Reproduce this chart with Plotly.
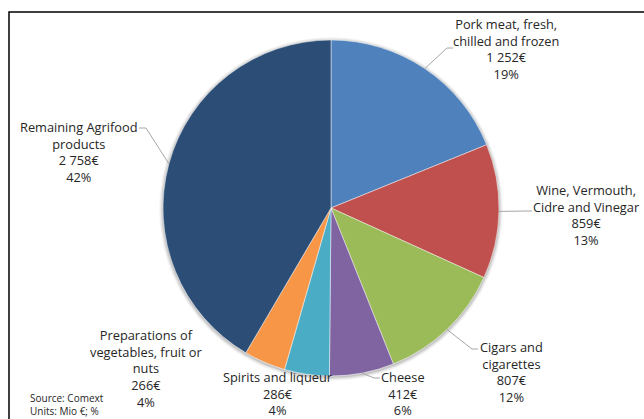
import math
import plotly.graph_objects as go

# Agrifood export breakdown (Mio €)
categories = [
    "Pork meat, fresh,<br>chilled and frozen",
    "Wine, Vermouth,<br>Cidre and Vinegar",
    "Cigars and<br>cigarettes",
    "Cheese",
    "Spirits and liqueur",
    "Preparations of<br>vegetables, fruit or<br>nuts",
    "Remaining Agrifood<br>products",
]
values = [1252, 859, 807, 412, 286, 266, 2758]
colors = ["#4F81BD", "#C0504D", "#9BBB59", "#8064A2", "#4BACC6", "#F79646", "#2C4D75"]

W, H = 644, 419
CX, CY, R = 331, 208, 168          # pie centre / radius in pixels
FONT = "Open Sans"


def px(x):
    return x / W


def py(y):
    return 1 - y / H


def fmt_eur(v):
    return f"{v:,}".replace(",", " ") + "€"


total = sum(values)
fig = go.Figure()

fig.add_trace(go.Pie(
    labels=[c.replace("<br>", " ") for c in categories],
    values=values,
    sort=False,
    direction="clockwise",
    rotation=0,
    marker=dict(colors=colors, line=dict(color="rgba(255,255,255,0.6)", width=0.8)),
    textinfo="none",
    hoverinfo="label+value+percent",
    showlegend=False,
    domain=dict(x=[px(CX - 200), px(CX + 200)], y=[py(CY + R), py(CY - R)]),
))

# soft shadow around the pie
shapes = []
for k, op in [(4, 0.03), (3, 0.05), (2, 0.07), (1, 0.09)]:
    shapes.append(dict(
        type="circle", xref="paper", yref="paper", layer="below",
        x0=px(CX - R - k), x1=px(CX + R + k), y0=py(CY + R + k + 1), y1=py(CY - R - k + 1),
        fillcolor=f"rgba(0,0,0,{op})", line=dict(width=0),
    ))

# label block centres (px) and leader elbow/end points for each slice
label_pos = [(506, 49.5), (586, 215), (511, 371.5), (403, 393.5), (278, 393.5), (146, 368), (79, 151.5)]
leaders = {
    0: [(447, 48), (453, 48)],
    1: [(527, 211), (532, 211)],
    2: [(472, 349), (478, 349)],
    3: [(374, 378), (380, 378)],
    6: [(146, 128), (139, 128)],
}

cum = 0
annotations = []
for i, (cat, v) in enumerate(zip(categories, values)):
    mid = (cum + v / 2) / total * 2 * math.pi
    cum += v
    ex, ey = CX + R * math.sin(mid), CY - R * math.cos(mid)
    if i in leaders:
        pts = [(ex, ey)] + leaders[i]
        path = "M " + " L ".join(f"{px(x)},{py(y)}" for x, y in pts)
        shapes.append(dict(type="path", xref="paper", yref="paper", path=path,
                           line=dict(color="#A6A6A6", width=1)))
    lx, ly = label_pos[i]
    pct = round(v / total * 100)
    annotations.append(dict(
        x=px(lx), y=py(ly), xref="paper", yref="paper",
        xanchor="center", yanchor="middle", align="center", showarrow=False,
        text=f"{cat}<br>{fmt_eur(v)}<br>{pct}%",
        font=dict(family=FONT, size=12.8, color="#262626"),
    ))

annotations.append(dict(
    x=px(28), y=py(404), xref="paper", yref="paper", xanchor="left", yanchor="middle",
    align="left", showarrow=False, text="Source: Comext<br>Units: Mio €; %",
    font=dict(family=FONT, size=10, color="#262626"),
))

# chart frame (top and left edges)
shapes.append(dict(type="path", xref="paper", yref="paper",
                   path=f"M {px(9)},0 L {px(9)},{py(12)} L 1,{py(12)}",
                   line=dict(color="black", width=1.5)))

fig.update_layout(
    width=W, height=H,
    margin=dict(l=0, r=0, t=0, b=0),
    paper_bgcolor="white",
    plot_bgcolor="white",
    shapes=shapes,
    annotations=annotations,
)

fig.write_html("out.html")
